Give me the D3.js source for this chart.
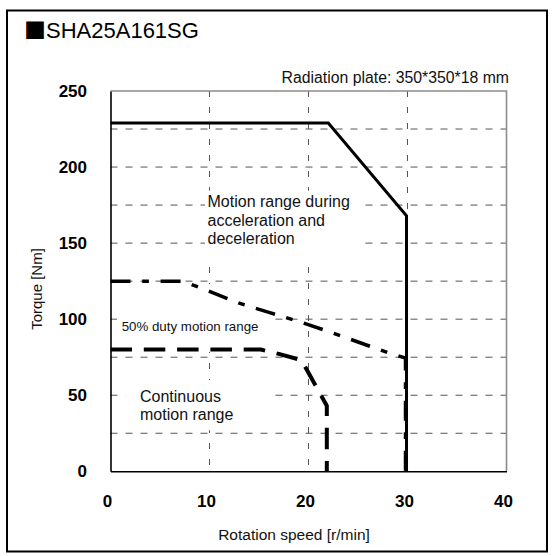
<!DOCTYPE html>
<html>
<head>
<meta charset="utf-8">
<script src="https://cdn.jsdelivr.net/npm/d3@7"></script>
<style>
html,body{margin:0;padding:0;background:#fff;}
svg{display:block;}
text{font-family:"Liberation Sans",Arial,sans-serif;}
</style>
</head>
<body>
<svg id="chart" width="554" height="556"></svg>
<script>
// ---- data ----
const title = "SHA25A161SG";
const note = "Radiation plate: 350*350*18 mm";
const xLabel = "Rotation speed [r/min]";
const yLabel = "Torque [Nm]";
const xTicks = [0, 10, 20, 30, 40];
const yTicks = [0, 50, 100, 150, 200, 250];
const xGrid = [10, 20, 30];
const yGrid = [25, 50, 75, 100, 125, 150, 175, 200, 225];

// Motion range during acceleration and deceleration (solid)
const accelSpeed  = [0, 22, 29.9, 29.9];
const accelTorque = [229, 229, 168, 0];
// 50% duty motion range (dash-dot)
const dutySpeed  = [0, 7.3, 8.7, 10.5, 13, 16, 19, 22, 25, 28, 29.8, 29.8];
const dutyTorque = [125, 125, 121.5, 117, 110.5, 104.5, 98.5, 92, 85, 78, 74.5, 0];
// Continuous motion range (dashed)
const contSpeed  = [0, 15.2, 17, 19.3, 21.85, 21.85];
const contTorque = [80, 80, 77.2, 73, 43, 0];

const accelText = ["Motion range during", "acceleration and", "deceleration"];
const dutyText = ["50% duty motion range"];
const contText = ["Continuous", "motion range"];

// ---- layout ----
const svg = d3.select("#chart");
const x = d3.scaleLinear().domain([0, 40]).range([110.5, 506.5]);
const y = d3.scaleLinear().domain([0, 250]).range([471.3, 91]);

// outer frame
svg.append("rect").attr("x", 7).attr("y", 10.5).attr("width", 540).attr("height", 541)
  .attr("fill", "none").attr("stroke", "#000").attr("stroke-width", 2);

// title
const t = svg.append("text").attr("x", 24).attr("y", 37.5).attr("font-size", 22).attr("fill", "#000");
t.append("tspan").style("font-family", '"Noto Sans CJK JP"').text("■");
t.append("tspan").text(title);

// note
svg.append("text").attr("x", 509).attr("y", 83.3).attr("text-anchor", "end")
  .attr("font-size", 15.8).attr("fill", "#111").text(note);

// grid
const g = svg.append("g");
g.selectAll("line.gx").data(xGrid).join("line")
  .attr("x1", d => x(d)).attr("x2", d => x(d)).attr("y1", y(250)).attr("y2", y(0))
  .attr("stroke", "#555").attr("stroke-width", 1).attr("stroke-dasharray", "6,10");
g.selectAll("line.gy").data(yGrid).join("line")
  .attr("x1", x(0)).attr("x2", x(40)).attr("y1", d => y(d)).attr("y2", d => y(d))
  .attr("stroke", "#555").attr("stroke-width", 1).attr("stroke-dasharray", "7,8");

// top / right frame of plot (grey)
svg.append("path")
  .attr("d", `M${x(0)},${y(250)}H${x(40)}V${y(0)}`)
  .attr("fill", "none").attr("stroke", "#8c8c8c").attr("stroke-width", 1.6);

// annotation boxes and texts
const notes = [
  {lines: accelText, tx: 9.8, ty: 173.6, size: 16, lh: 18.4, box: [9.55, 25.3, 139, 184.5]},
  {lines: dutyText,  tx: 1.13, ty: 92.2, size: 13.3, lh: 16, box: [0.65, 16.1, 78.5, 123]},
  {lines: contText,  tx: 2.98, ty: 45.5, size: 16, lh: 18.4, box: [1.5, 16.3, 27, 60]}
];
notes.forEach(n => {
  svg.append("rect")
    .attr("x", x(n.box[0])).attr("width", x(n.box[1]) - x(n.box[0]))
    .attr("y", y(n.box[3])).attr("height", y(n.box[2]) - y(n.box[3]))
    .attr("fill", "#fff");
  const tx = svg.append("text").attr("x", x(n.tx)).attr("y", y(n.ty))
    .attr("font-size", n.size).attr("fill", "#111");
  n.lines.forEach((l, i) => tx.append("tspan").attr("x", x(n.tx)).attr("dy", i ? n.lh : 0).text(l));
});

// curves
const line = d3.line().x(d => x(d[0])).y(d => y(d[1]));
const zip = (a, b) => a.map((v, i) => [v, b[i]]);
svg.append("path").attr("d", line(zip(contSpeed, contTorque)))
  .attr("fill", "none").attr("stroke", "#000").attr("stroke-width", 4)
  .attr("stroke-dasharray", "21.5,11.8");
svg.append("path").attr("d", line(zip(dutySpeed, dutyTorque)))
  .attr("fill", "none").attr("stroke", "#000").attr("stroke-width", 3.5)
  .attr("stroke-dasharray", "20,11.7,6.7,11.7");
svg.append("path").attr("d", line(zip(accelSpeed, accelTorque)))
  .attr("fill", "none").attr("stroke", "#000").attr("stroke-width", 3)
  .attr("stroke-linejoin", "miter");

// axes
const ax = svg.append("g").attr("transform", `translate(0,${y(0)})`)
  .call(d3.axisBottom(x).tickValues(xTicks).tickSize(0).tickPadding(23.5).tickFormat(d3.format("d")));
ax.select(".domain").attr("stroke", "#000").attr("stroke-width", 1.6);
ax.selectAll("text").attr("font-size", 17).attr("font-weight", "bold")
  .attr("font-family", '"Liberation Sans",Arial,sans-serif').attr("fill", "#000")
  .attr("transform", "translate(-3.5,0)");

const ay = svg.append("g").attr("transform", `translate(${x(0)},0)`)
  .call(d3.axisLeft(y).tickValues(yTicks).tickSize(0).tickPadding(23.5).tickFormat(d3.format("d")));
ay.select(".domain").attr("stroke", "#000").attr("stroke-width", 1.6);
ay.selectAll("text").attr("font-size", 17).attr("font-weight", "bold")
  .attr("font-family", '"Liberation Sans",Arial,sans-serif').attr("fill", "#000");

// axis titles
svg.append("text").attr("x", 294).attr("y", 539.5).attr("text-anchor", "middle")
  .attr("font-size", 15.5).attr("fill", "#111").text(xLabel);
svg.append("text").attr("transform", "translate(41.5,289) rotate(-90)").attr("text-anchor", "middle")
  .attr("font-size", 15).attr("fill", "#111").text(yLabel);
</script>
</body>
</html>
